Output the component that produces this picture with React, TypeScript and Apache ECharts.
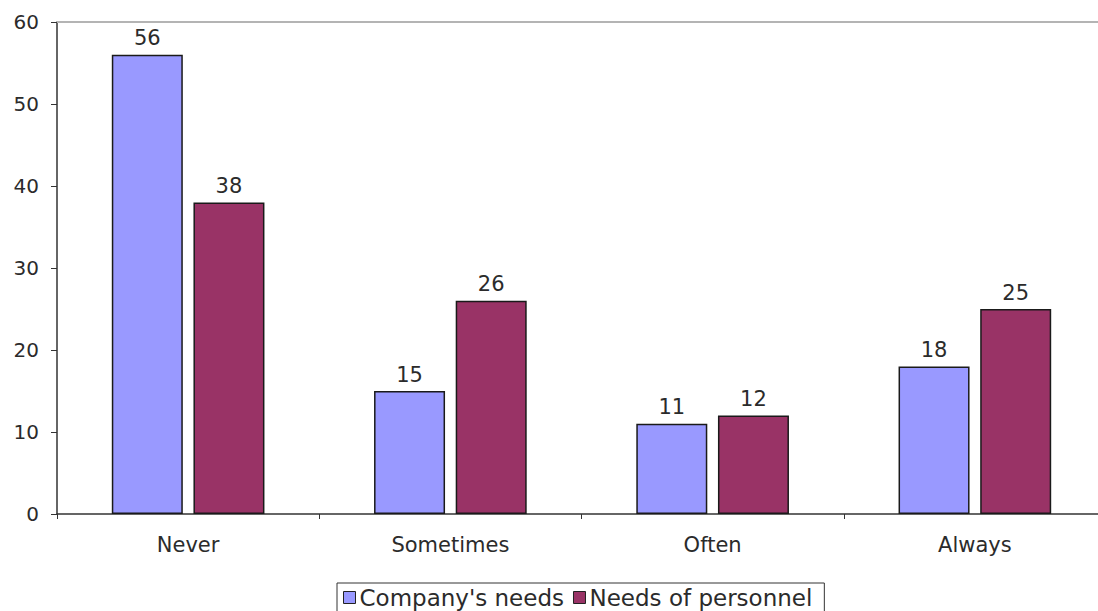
import React, { useEffect, useRef } from "react";
import * as echarts from "echarts";

const categories = ["Never", "Sometimes", "Often", "Always"];
const companyNeeds = [56, 15, 11, 18];
const personnelNeeds = [38, 26, 12, 25];
const seriesNames = ["Company's needs", "Needs of personnel"];

const FONT = "DejaVu Sans, Verdana, sans-serif";
const TEXT = "#2b2b2b";

export default function App() {
  const ref = useRef<HTMLDivElement>(null);

  useEffect(() => {
    if (!ref.current) return;
    const chart = echarts.init(ref.current, undefined, { renderer: "svg" });
    const labelStyle = {
      show: true,
      position: "top" as const,
      distance: 6,
      color: TEXT,
      fontSize: 21,
      fontFamily: FONT,
    };
    chart.setOption({
      animation: false,
      backgroundColor: "#ffffff",
      // the plot runs a little past the right edge of the view
      grid: { left: 57, right: 4, top: 22, bottom: 97, containLabel: false },
      legend: {
        data: seriesNames,
        left: 337,
        top: 583,
        padding: [3, 12, 3, 6],
        itemGap: 9,
        itemWidth: 12,
        itemHeight: 12,
        icon: "rect",
        borderColor: "#333",
        borderWidth: 1,
        textStyle: { fontSize: 23, fontFamily: FONT, color: TEXT, padding: [0, 0, 0, -1] },
        itemStyle: { borderColor: "#222", borderWidth: 1 },
      },
      xAxis: [
        {
          type: "category",
          data: categories,
          axisLine: { lineStyle: { color: "#333", width: 1.5 } },
          axisTick: { show: true, length: 5, alignWithLabel: false, lineStyle: { color: "#333" } },
          axisLabel: { fontSize: 21, fontFamily: FONT, color: TEXT, margin: 20 },
        },
        {
          type: "category",
          data: categories,
          position: "top",
          axisLine: { show: true, lineStyle: { color: "#b4b4b4", width: 2 } },
          axisTick: { show: false },
          axisLabel: { show: false },
        },
      ],
      yAxis: {
        type: "value",
        min: 0,
        max: 60,
        interval: 10,
        axisLine: { show: true, lineStyle: { color: "#333", width: 1.5 } },
        axisTick: { show: true, length: 6, lineStyle: { color: "#333" } },
        splitLine: { show: false },
        axisLabel: { fontSize: 20, fontFamily: FONT, color: TEXT, margin: 18 },
      },
      series: [
        {
          name: seriesNames[0],
          type: "bar",
          data: companyNeeds,
          barWidth: 71,
          barGap: "15%",
          itemStyle: { color: "#9999ff", borderColor: "#1a1a1a", borderWidth: 1.5 },
          label: labelStyle,
        },
        {
          name: seriesNames[1],
          type: "bar",
          data: personnelNeeds,
          barWidth: 71,
          itemStyle: { color: "#993366", borderColor: "#1a1a1a", borderWidth: 1.5 },
          label: labelStyle,
        },
      ],
    });
    return () => chart.dispose();
  }, []);

  return (
    <div style={{ position: "fixed", left: 0, top: 0, width: 1098, height: 611, overflow: "hidden" }}>
      <div ref={ref} style={{ width: 1110, height: 611 }} />
    </div>
  );
}
